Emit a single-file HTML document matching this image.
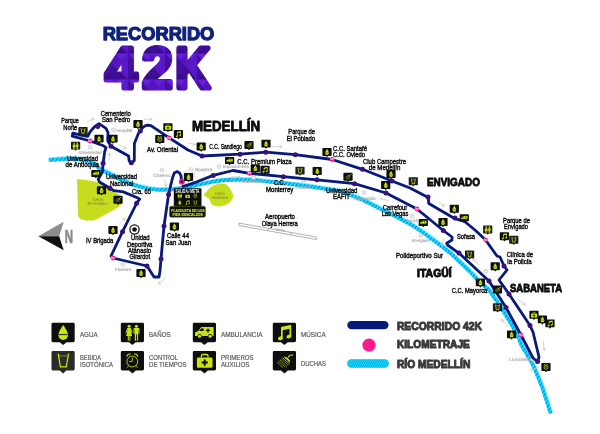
<!DOCTYPE html>
<html lang="es"><head><meta charset="utf-8"><title>Recorrido 42K</title>
<style>html,body{margin:0;padding:0;background:#fff}svg{display:block}.lb{font-family:"Liberation Sans",sans-serif;font-size:6.7px;fill:#0a0a0a;stroke:#0a0a0a;stroke-width:.38px}.ct{font-family:"Liberation Sans",sans-serif;font-weight:bold;fill:#0c0c0c;stroke:#0c0c0c;stroke-width:.85px;stroke-linejoin:round}.mt{font-family:"Liberation Sans",sans-serif;font-size:4.4px;fill:#a8a8a8;stroke:#a8a8a8;stroke-width:.14px;text-anchor:middle;text-rendering:geometricPrecision}.lg{font-family:"Liberation Sans",sans-serif;font-size:6.9px;fill:#5c5c5c;stroke:#5c5c5c;stroke-width:.2px}.lr{font-family:"Liberation Sans",sans-serif;font-weight:bold;font-size:11px;fill:#3a3a3a;stroke:#3a3a3a;stroke-width:1px;stroke-linejoin:round}</style></head><body>
<svg width="600" height="434" viewBox="0 0 600 434" style="opacity:.999;will-change:transform">
<defs>
<pattern id="hatch" width="1.9" height="4" patternUnits="userSpaceOnUse" patternTransform="rotate(30)"><rect width="1.9" height="4" fill="#0fe4ff"/><rect width="0.85" height="4" fill="#0a9ae8"/></pattern>
<pattern id="hatch2" width="3.15" height="4" patternUnits="userSpaceOnUse" patternTransform="rotate(38)"><rect width="3.15" height="4" fill="#0fe4ff"/><rect width="1.25" height="4" fill="#1593e6"/></pattern>
<pattern id="tri" width="26" height="26" patternUnits="userSpaceOnUse" patternTransform="translate(100,44)"><rect width="26" height="26" fill="#5011b4"/><path d="M0,0L26,0L13,13Z" fill="#6520dc"/><path d="M0,26L13,13L26,26Z" fill="#390b8c"/><path d="M0,0L13,13L0,26Z" fill="#450fa4"/><path d="M26,0L13,13L26,26Z" fill="#5a18c8"/><path d="M6.500,6.500L13,0L19.500,6.500L13,13Z" fill="#5614c0"/><path d="M6.500,19.500L13,13L19.500,19.500L13,26Z" fill="#400d98"/></pattern>
<symbol id="agua" viewBox="0 0 23.2 19.4"><path d="M11.7,2.1 C11.7,2.1 6.9,8.6 6.9,12.4 A4.8,4.8 0 0 0 16.5,12.4 C16.5,8.6 11.7,2.1 11.7,2.1Z" fill="#c9e40f"/><path d="M7.4,11.8h8.6" stroke="#0e0e0e" stroke-width=".9"/></symbol>
<symbol id="banos" viewBox="0 0 23.2 19.4"><g fill="#c9e40f"><circle cx="8.3" cy="3.4" r="1.5"/><path d="M6.6,5.3h3.4l1.9,4.6-.9,.4-1.3-3 1.6,5.9h-1.7v4.8h-1v-4.8h-.6v4.8h-1v-4.8h-1.7l1.6-5.9-1.3,3-.9-.4z"/><circle cx="15.6" cy="3.4" r="1.5"/><path d="M13.4,5.3h4.4c.5,0 .8,.4 .8,.9v4.8h-1v-4h-.3v11h-1.2v-6.2h-.9v6.2h-1.2v-11h-.3v4h-1v-4.8c0-.5 .3-.9 .7-.9z"/></g></symbol>
<symbol id="ambulancia" viewBox="0 0 23.2 19.4"><g fill="#c9e40f"><path d="M2.2,12.6V10.2c0-.5 .3-.9 .8-1.1l2.6-.9 2.3-3.3c.3-.4 .7-.6 1.1-.6h10.8c.6,0 1,.4 1,1v7.3c0,.4-.3,.7-.7,.7h-.6a2.1,2.1 0 0 0-4.2,0H8.9a2.1,2.1 0 0 0-4.2,0H2.9c-.4,0-.7-.3-.7-.7z"/><circle cx="6.8" cy="13.4" r="1.55"/><circle cx="17.4" cy="13.4" r="1.55"/></g><path d="M15.2,5.6v4M13.2,7.6h4" stroke="#0e0e0e" stroke-width="1.2"/><path d="M6.6,8.3l1.7-2.5h2.6v2.5z" fill="#0e0e0e"/></symbol>
<symbol id="musica" viewBox="0 0 23.2 19.4"><g fill="#c9e40f"><path d="M8.2,4.2l10.2-2.3v11.9h-1.7v-7.9l-6.8,1.5v8.3h-1.7z"/><ellipse cx="7.6" cy="15.5" rx="2.5" ry="1.9" transform="rotate(-15 7.6 15.5)"/><ellipse cx="16.1" cy="13.7" rx="2.5" ry="1.9" transform="rotate(-15 16.1 13.7)"/></g></symbol>
<symbol id="bebida" viewBox="0 0 23.2 19.4"><path d="M6.7,2.5l2.2,13.3h5.9l2.2-13.3" fill="none" stroke="#c9e40f" stroke-width="1.25" stroke-linejoin="miter"/><path d="M7.2,4.8c1-.7 1.8,.6 2.8,0s1.8,.6 2.8,0s1.8,.6 2.8,0" fill="none" stroke="#c9e40f" stroke-width=".6"/></symbol>
<symbol id="control" viewBox="0 0 23.2 19.4"><circle cx="11.5" cy="10.4" r="5.4" fill="none" stroke="#c9e40f" stroke-width=".9"/><path d="M11.5,6.4v4h-3.2" fill="none" stroke="#c9e40f" stroke-width=".8"/><path d="M6.3,5.2a2.3,2.3 0 0 1 3-2.2M16.7,5.2a2.3,2.3 0 0 0-3-2.2" fill="none" stroke="#c9e40f" stroke-width="1.1" stroke-linecap="round"/><path d="M7.6,14.6l-1,1.5M15.4,14.6l1,1.5" stroke="#c9e40f" stroke-width=".8" stroke-linecap="round"/></symbol>
<symbol id="auxilios" viewBox="0 0 23.2 19.4"><rect x="4.1" y="6.3" width="15.6" height="10.3" rx="1.3" fill="#c9e40f"/><path d="M8.6,6.3v-1.6c0-.8 .5-1.3 1.3-1.3h4c.8,0 1.3,.5 1.3,1.3v1.6" fill="none" stroke="#c9e40f" stroke-width="1.3"/><path d="M11.9,8.4v6.2M8.8,11.5h6.2" stroke="#0e0e0e" stroke-width="2"/></symbol>
<symbol id="duchas" viewBox="0 0 23.2 19.4"><g stroke="#c9e40f" fill="none"><path d="M19.8,4c-2-.5-3.4,.4-4.2,2" stroke-width="1.1" stroke-linecap="round"/><path d="M11,5.8c2.600,-.8 6.6,2.600 6.200,5.800z" fill="#c9e40f" stroke="none"/><path d="M9.8,6.600l6.800,6.400" stroke-width=".8"/><path d="M8.4,7.600l7,6.600M7,8.600l7.200,6.800M5.600,9.800l6.800,6.400M4.400,11.200l5.600,5.200" stroke-width=".7" stroke-dasharray="2.200 .5"/></g></symbol>
<symbol id="bebida-s" viewBox="0 0 23.2 19.4"><path d="M6.4,2.6l2.3,13.2h5.9l2.3-13.2" fill="none" stroke="#c9e40f" stroke-width="2" stroke-linejoin="miter"/><path d="M7,5.4h9.400" fill="none" stroke="#c9e40f" stroke-width="1.2"/></symbol>
<symbol id="control-s" viewBox="0 0 23.2 19.4"><circle cx="11.6" cy="10.6" r="5" fill="none" stroke="#c9e40f" stroke-width="1.9"/><path d="M11.6,7.400v3.400h-2.600" fill="none" stroke="#c9e40f" stroke-width="1.500"/><path d="M6.600,4.600l2.400,-2M16.600,4.600l-2.400,-2" fill="none" stroke="#c9e40f" stroke-width="2" stroke-linecap="round"/></symbol>
<symbol id="duchas-s" viewBox="0 0 23.2 19.4"><g stroke="#c9e40f" fill="none"><path d="M19.8,4c-2-.5-3.4,.4-4.2,2" stroke-width="1.800" stroke-linecap="round"/><path d="M10.600,5.400c3,-1 7.400,3 7,6.600z" fill="#c9e40f" stroke="none"/><path d="M9,7.200l7.200,6.800M7,9l7,6.600M5,11l5.800,5.400" stroke-width="1.300"/></g></symbol>
<symbol id="banos-s" viewBox="0 0 23.2 19.4"><g fill="#c9e40f"><circle cx="7.8" cy="3.6" r="2"/><path d="M5.600,6.200h4.400l2.400,6.800h-2.200v5.200h-1.700v-5.200h-1.400v5.200h-1.700v-5.200h-2.200z"/><circle cx="16" cy="3.6" r="2"/><path d="M12.800,6.200h6.400v6.600h-1.300v5.400h-1.700v-5.400h-.4v5.400h-1.700v-5.400h-1.300z"/></g></symbol>
</defs>
<rect width="600" height="434" fill="#fff"/>
<text x="102.700" y="39.900" textLength="111.600" lengthAdjust="spacingAndGlyphs" style="font-family:'Liberation Sans',sans-serif;font-weight:bold;font-size:18.300px;fill:#10227c;stroke:#10227c;stroke-width:1.250px;stroke-linejoin:round">RECORRIDO</text>
<text transform="translate(105.9,87.5) scale(1.0,1)" x="-0.57" y="0" style="font-family:'Liberation Sans',sans-serif;font-weight:bold;font-size:57px;fill:url(#tri);stroke:url(#tri);stroke-width:5px;stroke-linejoin:round">4</text>
<text transform="translate(143.9,87.5) scale(0.958,1)" x="-1.71" y="0" style="font-family:'Liberation Sans',sans-serif;font-weight:bold;font-size:57px;fill:url(#tri);stroke:url(#tri);stroke-width:5px;stroke-linejoin:round">2</text>
<text transform="translate(178.1,87.5) scale(0.847,1)" x="-3.42" y="0" style="font-family:'Liberation Sans',sans-serif;font-weight:bold;font-size:57px;fill:url(#tri);stroke:url(#tri);stroke-width:5px;stroke-linejoin:round">K</text>
<path d="M77,179.3 C80,179 86,180 91,181 L98,182 L110,189 L119,194.500 C122,197 123.200,200.500 122,203.500 C120,206.500 114,210 108,213 C102,216 98,219 94,220.200 C90,221 85,220.500 81,219 C78.500,218 78,216 78,213 C77.800,203 77.300,190 77,179.300Z" fill="#c5dd1c"/>
<path d="M203.300,195 L209,188.700 C212,186 216,184.200 220,183.800 C223,183.600 225,183.700 226.500,184.500 C228.500,186 231.500,190.500 233.300,195 C233.300,197 232.500,199 231.300,200.500 C229.500,202.500 228,204 226,204.700 C223.500,205.800 221,206.300 218.700,206.400 C216,206.200 214,205.700 212,204.700 C210.800,203.500 210.300,201.800 210,200 C209,198.800 207.500,198 206.700,197.300Z" fill="#c5dd1c"/>
<text x="98" y="200.5" class="mt" style="fill:#8f9e22;stroke:#8f9e22;font-size:4.3px">Cerro</text><text x="97.4" y="205.3" class="mt" style="fill:#8f9e22;stroke:#8f9e22;font-size:4.3px">El Volador</text>
<text x="220" y="194.5" class="mt" style="fill:#8f9e22;stroke:#8f9e22;font-size:4.3px">Cerro</text><text x="220" y="199.2" class="mt" style="fill:#8f9e22;stroke:#8f9e22;font-size:4.3px">Nutibara</text>
<g fill="#fff" stroke="#8e8e8e" stroke-width=".7" stroke-linejoin="round"><path d="M239.2,223.1L316.8,237.1L316.400,239.5L238.800,225.500Z"/><path d="M268.500,228.400l-.4,2.400M291,232.500l-.4,2.400"/></g><path d="M275.500,228.300l9.500,1.700l-.3,1.700l-9.500,-1.700z" fill="#b5b5b5"/>
<path d="M49,159.7 C50.5,159.6 54.2,159.1 58,158.9 C61.8,158.7 67.5,158.1 72,158.3 C76.5,158.5 81.2,159.1 85,160 C88.8,160.9 92.3,162.5 95,164 C97.7,165.5 98.2,167.3 101,169 C103.8,170.7 108.6,172.7 111.7,174.3 C114.8,175.9 115.2,176.7 119.7,178.6 C124.2,180.5 132.6,184.2 139,186 C145.4,187.8 151.7,188.9 158,189.3 C164.3,189.7 171.2,189.1 177,188.5 C182.8,187.9 185.5,186.9 193,185.5 C200.5,184.1 212.5,181.0 222,180 C231.5,179.0 240.3,179.1 250,179.5 C259.7,179.9 271.7,181.7 280,182.5 C288.3,183.3 293.3,183.8 300,184.6 C306.7,185.4 313.3,186.4 320,187.5 C326.7,188.6 333.3,189.2 340,191 C346.7,192.8 355.0,196.2 360,198.2 C365.0,200.2 366.2,201.1 370,203 C373.8,204.9 378.6,207.3 383,209.5 C387.4,211.7 392.2,214.0 396.7,216.3 C401.2,218.6 405.6,220.9 410,223.5 C414.4,226.1 420.0,229.8 423.3,232 C426.6,234.2 427.2,234.9 430,237 C432.8,239.1 436.9,241.9 440.3,244.5 C443.7,247.1 447.0,249.6 450.4,252.5 C453.8,255.4 457.2,258.9 460.5,262 C463.8,265.1 467.1,268.1 470,271 C472.9,273.9 475.5,277.1 478,279.6 C480.5,282.1 483.0,284.2 485,286 C487.0,287.8 488.2,288.4 490,290.5 C491.8,292.6 493.5,295.6 495.5,298.5 C497.5,301.4 499.6,304.2 502,308 C504.4,311.8 507.4,316.6 510,321 C512.6,325.4 515.5,330.4 517.5,334.4 C519.5,338.4 520.2,341.5 522,345 C523.8,348.5 526.2,351.9 528.1,355.3 C530.0,358.7 532.0,362.0 533.6,365.4 C535.2,368.8 536.4,371.9 537.9,375.5 C539.4,379.1 541.1,383.1 542.5,387 C543.9,390.9 545.1,394.7 546.5,399 C547.9,403.3 550.2,410.7 551,413" fill="none" stroke="#8af3ff" stroke-width="4.7" stroke-linecap="butt"/>
<mask id="rm" maskUnits="userSpaceOnUse" x="0" y="0" width="600" height="434"><path d="M49,159.7 C50.5,159.6 54.2,159.1 58,158.9 C61.8,158.7 67.5,158.1 72,158.3 C76.5,158.5 81.2,159.1 85,160 C88.8,160.9 92.3,162.5 95,164 C97.7,165.5 98.2,167.3 101,169 C103.8,170.7 108.6,172.7 111.7,174.3 C114.8,175.9 115.2,176.7 119.7,178.6 C124.2,180.5 132.6,184.2 139,186 C145.4,187.8 151.7,188.9 158,189.3 C164.3,189.7 171.2,189.1 177,188.5 C182.8,187.9 185.5,186.9 193,185.5 C200.5,184.1 212.5,181.0 222,180 C231.5,179.0 240.3,179.1 250,179.5 C259.7,179.9 271.7,181.7 280,182.5 C288.3,183.3 293.3,183.8 300,184.6 C306.7,185.4 313.3,186.4 320,187.5 C326.7,188.6 333.3,189.2 340,191 C346.7,192.8 355.0,196.2 360,198.2 C365.0,200.2 366.2,201.1 370,203 C373.8,204.9 378.6,207.3 383,209.5 C387.4,211.7 392.2,214.0 396.7,216.3 C401.2,218.6 405.6,220.9 410,223.5 C414.4,226.1 420.0,229.8 423.3,232 C426.6,234.2 427.2,234.9 430,237 C432.8,239.1 436.9,241.9 440.3,244.5 C443.7,247.1 447.0,249.6 450.4,252.5 C453.8,255.4 457.2,258.9 460.5,262 C463.8,265.1 467.1,268.1 470,271 C472.9,273.9 475.5,277.1 478,279.6 C480.5,282.1 483.0,284.2 485,286 C487.0,287.8 488.2,288.4 490,290.5 C491.8,292.6 493.5,295.6 495.5,298.5 C497.5,301.4 499.6,304.2 502,308 C504.4,311.8 507.4,316.6 510,321 C512.6,325.4 515.5,330.4 517.5,334.4 C519.5,338.4 520.2,341.5 522,345 C523.8,348.5 526.2,351.9 528.1,355.3 C530.0,358.7 532.0,362.0 533.6,365.4 C535.2,368.8 536.4,371.9 537.9,375.5 C539.4,379.1 541.1,383.1 542.5,387 C543.9,390.9 545.1,394.7 546.5,399 C547.9,403.3 550.2,410.7 551,413" fill="none" stroke="#fff" stroke-width="3.7" transform="translate(-.3,.45)"/></mask>
<g mask="url(#rm)"><rect x="40" y="150" width="520" height="270" fill="#0fe4ff"/><path d="M-170.95,420L40.00,150M-166.95,420L44.00,150M-162.95,420L48.00,150M-158.95,420L52.00,150M-154.95,420L56.00,150M-150.95,420L60.00,150M-146.95,420L64.00,150M-142.95,420L68.00,150M-138.95,420L72.00,150M-134.95,420L76.00,150M-130.95,420L80.00,150M-126.95,420L84.00,150M-122.95,420L88.00,150M-118.95,420L92.00,150M-114.95,420L96.00,150M-110.95,420L100.00,150M-106.95,420L104.00,150M-102.95,420L108.00,150M-98.95,420L112.00,150M-94.95,420L116.00,150M-90.95,420L120.00,150M-86.95,420L124.00,150M-82.95,420L128.00,150M-78.95,420L132.00,150M-74.95,420L136.00,150M-70.95,420L140.00,150M-66.95,420L144.00,150M-62.95,420L148.00,150M-58.95,420L152.00,150M-54.95,420L156.00,150M-50.95,420L160.00,150M-46.95,420L164.00,150M-42.95,420L168.00,150M-38.95,420L172.00,150M-34.95,420L176.00,150M-30.95,420L180.00,150M-26.95,420L184.00,150M-22.95,420L188.00,150M-18.95,420L192.00,150M-14.95,420L196.00,150M-10.95,420L200.00,150M-6.95,420L204.00,150M-2.95,420L208.00,150M1.05,420L212.00,150M5.05,420L216.00,150M9.05,420L220.00,150M13.05,420L224.00,150M17.05,420L228.00,150M21.05,420L232.00,150M25.05,420L236.00,150M29.05,420L240.00,150M33.05,420L244.00,150M37.05,420L248.00,150M41.05,420L252.00,150M45.05,420L256.00,150M49.05,420L260.00,150M53.05,420L264.00,150M57.05,420L268.00,150M61.05,420L272.00,150M65.05,420L276.00,150M69.05,420L280.00,150M73.05,420L284.00,150M77.05,420L288.00,150M81.05,420L292.00,150M85.05,420L296.00,150M89.05,420L300.00,150M93.05,420L304.00,150M97.05,420L308.00,150M101.05,420L312.00,150M105.05,420L316.00,150M109.05,420L320.00,150M113.05,420L324.00,150M117.05,420L328.00,150M121.05,420L332.00,150M125.05,420L336.00,150M129.05,420L340.00,150M133.05,420L344.00,150M137.05,420L348.00,150M141.05,420L352.00,150M145.05,420L356.00,150M149.05,420L360.00,150M153.05,420L364.00,150M157.05,420L368.00,150M161.05,420L372.00,150M165.05,420L376.00,150M169.05,420L380.00,150M173.05,420L384.00,150M177.05,420L388.00,150M181.05,420L392.00,150M185.05,420L396.00,150M189.05,420L400.00,150M193.05,420L404.00,150M197.05,420L408.00,150M201.05,420L412.00,150M205.05,420L416.00,150M209.05,420L420.00,150M213.05,420L424.00,150M217.05,420L428.00,150M221.05,420L432.00,150M225.05,420L436.00,150M229.05,420L440.00,150M233.05,420L444.00,150M237.05,420L448.00,150M241.05,420L452.00,150M245.05,420L456.00,150M249.05,420L460.00,150M253.05,420L464.00,150M257.05,420L468.00,150M261.05,420L472.00,150M265.05,420L476.00,150M269.05,420L480.00,150M273.05,420L484.00,150M277.05,420L488.00,150M281.05,420L492.00,150M285.05,420L496.00,150M289.05,420L500.00,150M293.05,420L504.00,150M297.05,420L508.00,150M301.05,420L512.00,150M305.05,420L516.00,150M309.05,420L520.00,150M313.05,420L524.00,150M317.05,420L528.00,150M321.05,420L532.00,150M325.05,420L536.00,150M329.05,420L540.00,150M333.05,420L544.00,150M337.05,420L548.00,150M341.05,420L552.00,150M345.05,420L556.00,150M349.05,420L560.00,150M353.05,420L564.00,150M357.05,420L568.00,150M361.05,420L572.00,150M365.05,420L576.00,150M369.05,420L580.00,150M373.05,420L584.00,150M377.05,420L588.00,150M381.05,420L592.00,150M385.05,420L596.00,150M389.05,420L600.00,150M393.05,420L604.00,150M397.05,420L608.00,150M401.05,420L612.00,150M405.05,420L616.00,150M409.05,420L620.00,150M413.05,420L624.00,150M417.05,420L628.00,150M421.05,420L632.00,150M425.05,420L636.00,150M429.05,420L640.00,150M433.05,420L644.00,150M437.05,420L648.00,150M441.05,420L652.00,150M445.05,420L656.00,150M449.05,420L660.00,150M453.05,420L664.00,150M457.05,420L668.00,150M461.05,420L672.00,150M465.05,420L676.00,150M469.05,420L680.00,150M473.05,420L684.00,150M477.05,420L688.00,150M481.05,420L692.00,150M485.05,420L696.00,150M489.05,420L700.00,150M493.05,420L704.00,150M497.05,420L708.00,150M501.05,420L712.00,150M505.05,420L716.00,150M509.05,420L720.00,150M513.05,420L724.00,150M517.05,420L728.00,150M521.05,420L732.00,150M525.05,420L736.00,150M529.05,420L740.00,150M533.05,420L744.00,150M537.05,420L748.00,150M541.05,420L752.00,150M545.05,420L756.00,150M549.05,420L760.00,150M553.05,420L764.00,150M557.05,420L768.00,150" stroke="#1a8fe6" stroke-width="1.3" fill="none"/></g>
<rect x="111.70" y="128.30" width="3.4" height="3.4" rx=".45" fill="#fff" stroke="#b4b4b4" stroke-width=".55"/><path d="M112.60,130.90v-1.7l.8,1l.8-1v1.7" fill="none" stroke="#bdbdbd" stroke-width=".4"/>
<text x="116.4" y="131.6" class="mt" style="text-anchor:start">Hospital</text>
<rect x="88.30" y="145.70" width="3.4" height="3.4" rx=".45" fill="#fff" stroke="#b4b4b4" stroke-width=".55"/><path d="M89.20,148.30v-1.7l.8,1l.8-1v1.7" fill="none" stroke="#bdbdbd" stroke-width=".4"/>
<text x="90" y="153.6" class="mt" style="text-anchor:middle">Universidad</text>
<rect x="160.30" y="168.30" width="3.4" height="3.4" rx=".45" fill="#fff" stroke="#b4b4b4" stroke-width=".55"/><path d="M161.20,170.90v-1.7l.8,1l.8-1v1.7" fill="none" stroke="#bdbdbd" stroke-width=".4"/>
<text x="162" y="176.6" class="mt" style="text-anchor:middle">Cisneros</text>
<rect x="189.30" y="167.90" width="3.4" height="3.4" rx=".45" fill="#fff" stroke="#b4b4b4" stroke-width=".55"/><path d="M190.20,170.50v-1.7l.8,1l.8-1v1.7" fill="none" stroke="#bdbdbd" stroke-width=".4"/>
<text x="194.4" y="171.3" class="mt" style="text-anchor:start">Alpujarra</text>
<rect x="217.30" y="164.90" width="3.4" height="3.4" rx=".45" fill="#fff" stroke="#b4b4b4" stroke-width=".55"/><path d="M218.20,167.50v-1.7l.8,1l.8-1v1.7" fill="none" stroke="#bdbdbd" stroke-width=".4"/>
<text x="223" y="168.4" class="mt" style="text-anchor:start">Exposiciones</text>
<rect x="251.90" y="175.90" width="3.4" height="3.4" rx=".45" fill="#fff" stroke="#b4b4b4" stroke-width=".55"/><path d="M252.80,178.50v-1.7l.8,1l.8-1v1.7" fill="none" stroke="#bdbdbd" stroke-width=".4"/>
<text x="253" y="183.4" class="mt" style="text-anchor:middle">Industriales</text>
<rect x="301.90" y="179.90" width="3.4" height="3.4" rx=".45" fill="#fff" stroke="#b4b4b4" stroke-width=".55"/><path d="M302.80,182.50v-1.7l.8,1l.8-1v1.7" fill="none" stroke="#bdbdbd" stroke-width=".4"/>
<text x="303.5" y="188.5" class="mt" style="text-anchor:middle">Poblado</text>
<rect x="362.30" y="190.90" width="3.4" height="3.4" rx=".45" fill="#fff" stroke="#b4b4b4" stroke-width=".55"/><path d="M363.20,193.50v-1.7l.8,1l.8-1v1.7" fill="none" stroke="#bdbdbd" stroke-width=".4"/>
<text x="364.5" y="199.6" class="mt" style="text-anchor:middle">Aguacatala</text>
<rect x="410.30" y="214.10" width="3.4" height="3.4" rx=".45" fill="#fff" stroke="#b4b4b4" stroke-width=".55"/><path d="M411.20,216.70v-1.7l.8,1l.8-1v1.7" fill="none" stroke="#bdbdbd" stroke-width=".4"/>
<text x="412" y="221.6" class="mt" style="text-anchor:middle">Ayurá</text>
<rect x="419.10" y="233.80" width="3.4" height="3.4" rx=".45" fill="#fff" stroke="#b4b4b4" stroke-width=".55"/><path d="M420.00,236.40v-1.7l.8,1l.8-1v1.7" fill="none" stroke="#bdbdbd" stroke-width=".4"/>
<text x="420.8" y="242" class="mt" style="text-anchor:middle">Envigado</text>
<rect x="483.90" y="269.30" width="3.4" height="3.4" rx=".45" fill="#fff" stroke="#b4b4b4" stroke-width=".55"/><path d="M484.80,271.90v-1.7l.8,1l.8-1v1.7" fill="none" stroke="#bdbdbd" stroke-width=".4"/>
<rect x="530.70" y="357.40" width="3.4" height="3.4" rx=".45" fill="#fff" stroke="#b4b4b4" stroke-width=".55"/><path d="M531.60,360.00v-1.7l.8,1l.8-1v1.7" fill="none" stroke="#bdbdbd" stroke-width=".4"/>
<text x="530" y="360.8" class="mt" style="text-anchor:end">La Estrella</text>
<rect x="121.30" y="262.70" width="3.4" height="3.4" rx=".45" fill="#fff" stroke="#b4b4b4" stroke-width=".55"/><path d="M122.20,265.30v-1.7l.8,1l.8-1v1.7" fill="none" stroke="#bdbdbd" stroke-width=".4"/>
<text x="123" y="270.6" class="mt" style="text-anchor:middle">Floresta</text>
<path d="M87,122.5Q89.6,119.0 94,119M91.8,120.3L94,119L91.8,117.7" fill="none" stroke="#c6c6c6" stroke-width=".75" stroke-linecap="round" stroke-linejoin="round"/>
<path d="M144,119.3Q148.0,118.4 152,119.5M149.5,120.2L152,119.5L150.2,117.6" fill="none" stroke="#c6c6c6" stroke-width=".75" stroke-linecap="round" stroke-linejoin="round"/>
<path d="M119,145Q122.5,146.8 126,148.5M123.4,148.7L126,148.5L124.6,146.3" fill="none" stroke="#c6c6c6" stroke-width=".75" stroke-linecap="round" stroke-linejoin="round"/>
<path d="M109.3,160Q109.4,156.5 109.5,153M110.8,155.2L109.5,153L108.1,155.2" fill="none" stroke="#c6c6c6" stroke-width=".75" stroke-linecap="round" stroke-linejoin="round"/>
<path d="M188,143Q191.8,143.8 195.5,144.6M193.1,145.4L195.5,144.6L193.6,142.9" fill="none" stroke="#c6c6c6" stroke-width=".75" stroke-linecap="round" stroke-linejoin="round"/>
<path d="M164.6,180Q165.5,183.2 166.4,186.5M164.5,184.7L166.4,186.5L167.1,184.0" fill="none" stroke="#c6c6c6" stroke-width=".75" stroke-linecap="round" stroke-linejoin="round"/>
<path d="M240,176.4Q235.5,177.0 231,177.6M233.0,176.0L231,177.6L233.4,178.6" fill="none" stroke="#c6c6c6" stroke-width=".75" stroke-linecap="round" stroke-linejoin="round"/>
<path d="M119.5,224Q122.2,221.0 125,218M124.5,220.5L125,218L122.5,218.7" fill="none" stroke="#c6c6c6" stroke-width=".75" stroke-linecap="round" stroke-linejoin="round"/>
<path d="M165.5,277.5Q163.0,282.1 158,283.5M159.7,281.6L158,283.5L160.5,284.2" fill="none" stroke="#c6c6c6" stroke-width=".75" stroke-linecap="round" stroke-linejoin="round"/>
<path d="M272,146.7Q277.0,146.7 282,146.7M279.8,148.0L282,146.7L279.8,145.4" fill="none" stroke="#c6c6c6" stroke-width=".75" stroke-linecap="round" stroke-linejoin="round"/>
<path d="M388,200.5Q384.0,199.5 380,198.5M382.5,197.8L380,198.5L381.8,200.3" fill="none" stroke="#c6c6c6" stroke-width=".75" stroke-linecap="round" stroke-linejoin="round"/>
<path d="M438.5,202.3Q441.5,204.2 444.5,206M441.9,206.0L444.5,206L443.3,203.7" fill="none" stroke="#c6c6c6" stroke-width=".75" stroke-linecap="round" stroke-linejoin="round"/>
<path d="M478.5,264.5Q475.5,261.5 472.5,258.5M475.0,259.1L472.5,258.5L473.1,261.0" fill="none" stroke="#c6c6c6" stroke-width=".75" stroke-linecap="round" stroke-linejoin="round"/>
<path d="M518,299Q521.5,302.0 525,305M522.5,304.6L525,305L524.2,302.6" fill="none" stroke="#c6c6c6" stroke-width=".75" stroke-linecap="round" stroke-linejoin="round"/>
<path d="M507.5,326.5Q504.5,323.0 501.5,319.5M503.9,320.3L501.5,319.5L501.9,322.0" fill="none" stroke="#c6c6c6" stroke-width=".75" stroke-linecap="round" stroke-linejoin="round"/>
<path d="M543.2,341Q543.7,345.8 544.2,350.5M542.7,348.5L544.2,350.5L545.3,348.2" fill="none" stroke="#c6c6c6" stroke-width=".75" stroke-linecap="round" stroke-linejoin="round"/>
<path d="M539.5,366.5Q535.6,369.9 530.5,369.5M532.8,368.4L530.5,369.5L532.6,371.0" fill="none" stroke="#c6c6c6" stroke-width=".75" stroke-linecap="round" stroke-linejoin="round"/>
<path d="M444,238.5Q442.9,242.0 441.8,245.5M441.2,243.0L441.8,245.5L443.7,243.8" fill="none" stroke="#c6c6c6" stroke-width=".75" stroke-linecap="round" stroke-linejoin="round"/>
<path d="M183.500,180.500C183,174 185,170.600 189,170.600C193,170.600 194.500,174 194.300,178" fill="none" stroke="#ebebeb" stroke-width="2.600"/>
<polyline points="181.6,181.6 181,176 179.6,173 176.8,171.6 174.3,173 172.8,177 171,184 168.6,194.5 164,226 161,259 160,271 159,277 154,277 147,266 113,258 111,256 122.5,231.7 136.8,203 139.6,199.2 137.3,197.7 123.3,191.9 114,190.7 110,188.2 99.5,182 98.2,179.3 102.3,172 103.2,163 104.6,152 106,147.6 103.5,145.8 90.2,141 72.2,136.2 72.9,133.1 81,135.1 87.7,136.4 90.2,131.7 94.3,127 98.9,123.6 106,128.3 108,132.5 107.7,140.8 111,146.2 128.6,156 129.2,161 131.3,163 134.3,160.6 134.4,143.5 138.6,133 140.2,131 142.3,128 145,125.9 148,125.2 150.5,125.6 152.4,126.6 169.2,137.9 188,150 202,156 240,154.2 265.8,152.2 295.3,154.7 332.2,159.5 362.5,169.3 392,181 410,188 428.2,197.5 428.8,203.5 455,218.7 465,221.7 475.8,230.8 485.6,240 497,256 500,257 504,266 507,270 499,280 509,294 523,315 527,321 530,325.6 533,332 539,357 537.6,361.6 533,358 521,335 506,307.6 489,281 459.2,253.3 447.5,245 446.7,243.3 452,240 452,237 443.3,230.5 417,209 386,193 354.5,183.7 317,179.8 283.3,176.7 249.5,173.3 233,170.5 213.2,175.4 194.6,182.7 188,184.8 183,186.3" fill="none" stroke="#08197c" stroke-width="2.8" stroke-linejoin="round" stroke-linecap="round"/>
<circle cx="168.6" cy="194.5" r="2.5" fill="#3a127e"/>
<circle cx="164" cy="226" r="2.5" fill="#3a127e"/>
<circle cx="161" cy="259" r="2.5" fill="#3a127e"/>
<circle cx="147" cy="266" r="2.5" fill="#3a127e"/>
<circle cx="122.5" cy="231.7" r="2.5" fill="#3a127e"/>
<circle cx="136.6" cy="203.2" r="2.5" fill="#3a127e"/>
<circle cx="110" cy="188.2" r="2.5" fill="#3a127e"/>
<circle cx="103.1" cy="163.3" r="2.5" fill="#3a127e"/>
<circle cx="97.7" cy="126.6" r="2.5" fill="#3a127e"/>
<circle cx="111" cy="146.2" r="2.5" fill="#3a127e"/>
<circle cx="131.3" cy="162.8" r="2.5" fill="#3a127e"/>
<circle cx="140.3" cy="131.1" r="2.5" fill="#3a127e"/>
<circle cx="202" cy="156" r="2.5" fill="#3a127e"/>
<circle cx="240" cy="154.2" r="2.5" fill="#3a127e"/>
<circle cx="265.8" cy="152.2" r="2.5" fill="#3a127e"/>
<circle cx="295.3" cy="154.7" r="2.5" fill="#3a127e"/>
<circle cx="362.5" cy="169.3" r="2.5" fill="#3a127e"/>
<circle cx="392" cy="181" r="2.5" fill="#3a127e"/>
<circle cx="428" cy="197" r="2.5" fill="#3a127e"/>
<circle cx="455" cy="218" r="2.5" fill="#3a127e"/>
<circle cx="504" cy="266" r="2.5" fill="#3a127e"/>
<circle cx="509" cy="294" r="2.5" fill="#3a127e"/>
<circle cx="530" cy="325.6" r="2.5" fill="#3a127e"/>
<circle cx="537.6" cy="361.6" r="2.5" fill="#3a127e"/>
<circle cx="506" cy="307.6" r="2.5" fill="#3a127e"/>
<circle cx="489" cy="281" r="2.5" fill="#3a127e"/>
<circle cx="459" cy="253" r="2.5" fill="#3a127e"/>
<circle cx="443.3" cy="230.5" r="2.5" fill="#3a127e"/>
<circle cx="386" cy="193" r="2.5" fill="#3a127e"/>
<circle cx="354.5" cy="183.7" r="2.5" fill="#3a127e"/>
<circle cx="317" cy="179.8" r="2.5" fill="#3a127e"/>
<circle cx="283.3" cy="176.7" r="2.5" fill="#3a127e"/>
<circle cx="213.2" cy="175.4" r="2.5" fill="#3a127e"/>
<circle cx="113" cy="258" r="2.4" fill="#ff1a8c"/><text x="113" y="258.8" text-anchor="middle" style="font-family:'Liberation Sans',sans-serif;font-weight:bold;font-size:2.6px;fill:#ffd3ea">km</text>
<circle cx="90.2" cy="141" r="2.4" fill="#ff1a8c"/><text x="90.2" y="141.8" text-anchor="middle" style="font-family:'Liberation Sans',sans-serif;font-weight:bold;font-size:2.6px;fill:#ffd3ea">km</text>
<circle cx="169.2" cy="137.9" r="2.4" fill="#ff1a8c"/><text x="169.2" y="138.7" text-anchor="middle" style="font-family:'Liberation Sans',sans-serif;font-weight:bold;font-size:2.6px;fill:#ffd3ea">km</text>
<circle cx="332.2" cy="159.5" r="2.4" fill="#ff1a8c"/><text x="332.2" y="160.3" text-anchor="middle" style="font-family:'Liberation Sans',sans-serif;font-weight:bold;font-size:2.6px;fill:#ffd3ea">km</text>
<circle cx="485.6" cy="240" r="2.4" fill="#ff1a8c"/><text x="485.6" y="240.8" text-anchor="middle" style="font-family:'Liberation Sans',sans-serif;font-weight:bold;font-size:2.6px;fill:#ffd3ea">km</text>
<circle cx="521" cy="335" r="2.4" fill="#ff1a8c"/><text x="521" y="335.8" text-anchor="middle" style="font-family:'Liberation Sans',sans-serif;font-weight:bold;font-size:2.6px;fill:#ffd3ea">km</text>
<circle cx="417" cy="209" r="2.4" fill="#ff1a8c"/><text x="417" y="209.8" text-anchor="middle" style="font-family:'Liberation Sans',sans-serif;font-weight:bold;font-size:2.6px;fill:#ffd3ea">km</text>
<circle cx="249.5" cy="173.3" r="2.4" fill="#ff1a8c"/><text x="249.5" y="174.1" text-anchor="middle" style="font-family:'Liberation Sans',sans-serif;font-weight:bold;font-size:2.6px;fill:#ffd3ea">km</text>
<circle cx="181.8" cy="181.8" r="3.05" fill="#ff1a8c"/><circle cx="181.8" cy="181.8" r="1.3" fill="#0e0e0e"/>
<circle cx="134.5" cy="229.5" r="4.6" fill="#fff" stroke="#0e0e0e" stroke-width="1.25"/><circle cx="134.5" cy="229.5" r="2.35" fill="#0e0e0e"/>
<g><path d="M79.10,127.05h7.80a0.7,0.7 0 0 1 0.7,0.7v6.50a0.7,0.7 0 0 1-0.7,0.7h-2.80l-1.1,1.3l-1.1-1.3h-2.80a0.7,0.7 0 0 1-0.7-0.7v-6.50a0.7,0.7 0 0 1 0.7-0.7z" fill="#1c1c1c"/><use href="#bebida-s" x="78.40" y="127.25" width="9.20" height="7.50"/></g>
<g><path d="M95.10,134.65h7.80a0.7,0.7 0 0 1 0.7,0.7v6.50a0.7,0.7 0 0 1-0.7,0.7h-2.80l-1.1,1.3l-1.1-1.3h-2.80a0.7,0.7 0 0 1-0.7-0.7v-6.50a0.7,0.7 0 0 1 0.7-0.7z" fill="#0e0e0e"/><use href="#agua" x="94.40" y="134.85" width="9.20" height="7.50"/></g>
<g><path d="M109.10,134.65h7.80a0.7,0.7 0 0 1 0.7,0.7v6.50a0.7,0.7 0 0 1-0.7,0.7h-2.80l-1.1,1.3l-1.1-1.3h-2.80a0.7,0.7 0 0 1-0.7-0.7v-6.50a0.7,0.7 0 0 1 0.7-0.7z" fill="#0e0e0e"/><use href="#agua" x="108.40" y="134.85" width="9.20" height="7.50"/></g>
<g><path d="M134.10,120.05h7.80a0.7,0.7 0 0 1 0.7,0.7v6.50a0.7,0.7 0 0 1-0.7,0.7h-2.80l-1.1,1.3l-1.1-1.3h-2.80a0.7,0.7 0 0 1-0.7-0.7v-6.50a0.7,0.7 0 0 1 0.7-0.7z" fill="#0e0e0e"/><use href="#agua" x="133.40" y="120.25" width="9.20" height="7.50"/></g>
<g><path d="M71.70,141.65h7.80a0.7,0.7 0 0 1 0.7,0.7v6.50a0.7,0.7 0 0 1-0.7,0.7h-2.80l-1.1,1.3l-1.1-1.3h-2.80a0.7,0.7 0 0 1-0.7-0.7v-6.50a0.7,0.7 0 0 1 0.7-0.7z" fill="#1c1c1c"/><use href="#banos-s" x="71.00" y="141.85" width="9.20" height="7.50"/></g>
<g><path d="M92.00,170.00h7.80a0.7,0.7 0 0 1 0.7,0.7v5.60a0.7,0.7 0 0 1-0.7,0.7h-2.80l-1.1,1.3l-1.1-1.3h-2.80a0.7,0.7 0 0 1-0.7-0.7v-5.60a0.7,0.7 0 0 1 0.7-0.7z" fill="#0e0e0e"/><use href="#ambulancia" x="91.30" y="170.20" width="9.20" height="6.60"/></g>
<g><path d="M164.00,123.15h7.80a0.7,0.7 0 0 1 0.7,0.7v6.50a0.7,0.7 0 0 1-0.7,0.7h-2.80l-1.1,1.3l-1.1-1.3h-2.80a0.7,0.7 0 0 1-0.7-0.7v-6.50a0.7,0.7 0 0 1 0.7-0.7z" fill="#0e0e0e"/><use href="#auxilios" x="163.30" y="123.35" width="9.20" height="7.50"/></g>
<g><path d="M155.90,135.05h7.80a0.7,0.7 0 0 1 0.7,0.7v6.50a0.7,0.7 0 0 1-0.7,0.7h-2.80l-1.1,1.3l-1.1-1.3h-2.80a0.7,0.7 0 0 1-0.7-0.7v-6.50a0.7,0.7 0 0 1 0.7-0.7z" fill="#0e0e0e"/><use href="#control-s" x="155.20" y="135.25" width="9.20" height="7.50"/></g>
<g><path d="M174.50,130.05h7.80a0.7,0.7 0 0 1 0.7,0.7v6.50a0.7,0.7 0 0 1-0.7,0.7h-2.80l-1.1,1.3l-1.1-1.3h-2.80a0.7,0.7 0 0 1-0.7-0.7v-6.50a0.7,0.7 0 0 1 0.7-0.7z" fill="#0e0e0e"/><use href="#musica" x="173.80" y="130.25" width="9.20" height="7.50"/></g>
<g><path d="M197.30,142.55h7.80a0.7,0.7 0 0 1 0.7,0.7v6.50a0.7,0.7 0 0 1-0.7,0.7h-2.80l-1.1,1.3l-1.1-1.3h-2.80a0.7,0.7 0 0 1-0.7-0.7v-6.50a0.7,0.7 0 0 1 0.7-0.7z" fill="#0e0e0e"/><use href="#agua" x="196.60" y="142.75" width="9.20" height="7.50"/></g>
<g><path d="M225.70,157.00h7.80a0.7,0.7 0 0 1 0.7,0.7v5.60a0.7,0.7 0 0 1-0.7,0.7h-2.80l-1.1,1.3l-1.1-1.3h-2.80a0.7,0.7 0 0 1-0.7-0.7v-5.60a0.7,0.7 0 0 1 0.7-0.7z" fill="#0e0e0e"/><use href="#ambulancia" x="225.00" y="157.20" width="9.20" height="6.60"/></g>
<g><path d="M184.60,173.05h7.80a0.7,0.7 0 0 1 0.7,0.7v6.50a0.7,0.7 0 0 1-0.7,0.7h-2.80l-1.1,1.3l-1.1-1.3h-2.80a0.7,0.7 0 0 1-0.7-0.7v-6.50a0.7,0.7 0 0 1 0.7-0.7z" fill="#0e0e0e"/><use href="#agua" x="183.90" y="173.25" width="9.20" height="7.50"/></g>
<g><path d="M97.60,186.25h7.80a0.7,0.7 0 0 1 0.7,0.7v6.50a0.7,0.7 0 0 1-0.7,0.7h-2.80l-1.1,1.3l-1.1-1.3h-2.80a0.7,0.7 0 0 1-0.7-0.7v-6.50a0.7,0.7 0 0 1 0.7-0.7z" fill="#0e0e0e"/><use href="#agua" x="96.90" y="186.45" width="9.20" height="7.50"/></g>
<g><path d="M114.10,195.75h7.80a0.7,0.7 0 0 1 0.7,0.7v6.50a0.7,0.7 0 0 1-0.7,0.7h-2.80l-1.1,1.3l-1.1-1.3h-2.80a0.7,0.7 0 0 1-0.7-0.7v-6.50a0.7,0.7 0 0 1 0.7-0.7z" fill="#0e0e0e"/><use href="#duchas-s" x="113.40" y="195.95" width="9.20" height="7.50"/></g>
<g><path d="M109.10,226.05h7.80a0.7,0.7 0 0 1 0.7,0.7v6.50a0.7,0.7 0 0 1-0.7,0.7h-2.80l-1.1,1.3l-1.1-1.3h-2.80a0.7,0.7 0 0 1-0.7-0.7v-6.50a0.7,0.7 0 0 1 0.7-0.7z" fill="#0e0e0e"/><use href="#agua" x="108.40" y="226.25" width="9.20" height="7.50"/></g>
<g><path d="M170.50,222.55h7.80a0.7,0.7 0 0 1 0.7,0.7v6.50a0.7,0.7 0 0 1-0.7,0.7h-2.80l-1.1,1.3l-1.1-1.3h-2.80a0.7,0.7 0 0 1-0.7-0.7v-6.50a0.7,0.7 0 0 1 0.7-0.7z" fill="#0e0e0e"/><use href="#agua" x="169.80" y="222.75" width="9.20" height="7.50"/></g>
<g><path d="M137.10,269.05h7.80a0.7,0.7 0 0 1 0.7,0.7v6.50a0.7,0.7 0 0 1-0.7,0.7h-2.80l-1.1,1.3l-1.1-1.3h-2.80a0.7,0.7 0 0 1-0.7-0.7v-6.50a0.7,0.7 0 0 1 0.7-0.7z" fill="#0e0e0e"/><use href="#agua" x="136.40" y="269.25" width="9.20" height="7.50"/></g>
<g><path d="M245.10,141.05h7.80a0.7,0.7 0 0 1 0.7,0.7v6.50a0.7,0.7 0 0 1-0.7,0.7h-2.80l-1.1,1.3l-1.1-1.3h-2.80a0.7,0.7 0 0 1-0.7-0.7v-6.50a0.7,0.7 0 0 1 0.7-0.7z" fill="#0e0e0e"/><use href="#duchas-s" x="244.40" y="141.25" width="9.20" height="7.50"/></g>
<g><path d="M262.10,139.65h7.80a0.7,0.7 0 0 1 0.7,0.7v6.50a0.7,0.7 0 0 1-0.7,0.7h-2.80l-1.1,1.3l-1.1-1.3h-2.80a0.7,0.7 0 0 1-0.7-0.7v-6.50a0.7,0.7 0 0 1 0.7-0.7z" fill="#0e0e0e"/><use href="#agua" x="261.40" y="139.85" width="9.20" height="7.50"/></g>
<g><path d="M323.10,148.05h7.80a0.7,0.7 0 0 1 0.7,0.7v6.50a0.7,0.7 0 0 1-0.7,0.7h-2.80l-1.1,1.3l-1.1-1.3h-2.80a0.7,0.7 0 0 1-0.7-0.7v-6.50a0.7,0.7 0 0 1 0.7-0.7z" fill="#0e0e0e"/><use href="#agua" x="322.40" y="148.25" width="9.20" height="7.50"/></g>
<g><path d="M251.40,164.25h7.80a0.7,0.7 0 0 1 0.7,0.7v6.50a0.7,0.7 0 0 1-0.7,0.7h-2.80l-1.1,1.3l-1.1-1.3h-2.80a0.7,0.7 0 0 1-0.7-0.7v-6.50a0.7,0.7 0 0 1 0.7-0.7z" fill="#0e0e0e"/><use href="#agua" x="250.70" y="164.45" width="9.20" height="7.50"/></g>
<g><path d="M261.10,165.85h7.80a0.7,0.7 0 0 1 0.7,0.7v6.50a0.7,0.7 0 0 1-0.7,0.7h-2.80l-1.1,1.3l-1.1-1.3h-2.80a0.7,0.7 0 0 1-0.7-0.7v-6.50a0.7,0.7 0 0 1 0.7-0.7z" fill="#0e0e0e"/><use href="#musica" x="260.40" y="166.05" width="9.20" height="7.50"/></g>
<g><path d="M296.10,166.65h7.80a0.7,0.7 0 0 1 0.7,0.7v6.50a0.7,0.7 0 0 1-0.7,0.7h-2.80l-1.1,1.3l-1.1-1.3h-2.80a0.7,0.7 0 0 1-0.7-0.7v-6.50a0.7,0.7 0 0 1 0.7-0.7z" fill="#1c1c1c"/><use href="#bebida-s" x="295.40" y="166.85" width="9.20" height="7.50"/></g>
<g><path d="M313.30,167.05h7.80a0.7,0.7 0 0 1 0.7,0.7v6.50a0.7,0.7 0 0 1-0.7,0.7h-2.80l-1.1,1.3l-1.1-1.3h-2.80a0.7,0.7 0 0 1-0.7-0.7v-6.50a0.7,0.7 0 0 1 0.7-0.7z" fill="#0e0e0e"/><use href="#agua" x="312.60" y="167.25" width="9.20" height="7.50"/></g>
<g><path d="M344.10,172.75h7.80a0.7,0.7 0 0 1 0.7,0.7v6.50a0.7,0.7 0 0 1-0.7,0.7h-2.80l-1.1,1.3l-1.1-1.3h-2.80a0.7,0.7 0 0 1-0.7-0.7v-6.50a0.7,0.7 0 0 1 0.7-0.7z" fill="#0e0e0e"/><use href="#duchas-s" x="343.40" y="172.95" width="9.20" height="7.50"/></g>
<g><path d="M387.10,170.05h7.80a0.7,0.7 0 0 1 0.7,0.7v6.50a0.7,0.7 0 0 1-0.7,0.7h-2.80l-1.1,1.3l-1.1-1.3h-2.80a0.7,0.7 0 0 1-0.7-0.7v-6.50a0.7,0.7 0 0 1 0.7-0.7z" fill="#0e0e0e"/><use href="#agua" x="386.40" y="170.25" width="9.20" height="7.50"/></g>
<g><path d="M381.80,181.05h7.80a0.7,0.7 0 0 1 0.7,0.7v6.50a0.7,0.7 0 0 1-0.7,0.7h-2.80l-1.1,1.3l-1.1-1.3h-2.80a0.7,0.7 0 0 1-0.7-0.7v-6.50a0.7,0.7 0 0 1 0.7-0.7z" fill="#0e0e0e"/><use href="#agua" x="381.10" y="181.25" width="9.20" height="7.50"/></g>
<g><path d="M409.40,177.35h7.80a0.7,0.7 0 0 1 0.7,0.7v6.50a0.7,0.7 0 0 1-0.7,0.7h-2.80l-1.1,1.3l-1.1-1.3h-2.80a0.7,0.7 0 0 1-0.7-0.7v-6.50a0.7,0.7 0 0 1 0.7-0.7z" fill="#1c1c1c"/><use href="#bebida-s" x="408.70" y="177.55" width="9.20" height="7.50"/></g>
<g><path d="M450.40,204.85h7.80a0.7,0.7 0 0 1 0.7,0.7v6.50a0.7,0.7 0 0 1-0.7,0.7h-2.80l-1.1,1.3l-1.1-1.3h-2.80a0.7,0.7 0 0 1-0.7-0.7v-6.50a0.7,0.7 0 0 1 0.7-0.7z" fill="#0e0e0e"/><use href="#agua" x="449.70" y="205.05" width="9.20" height="7.50"/></g>
<g><path d="M460.40,214.30h7.80a0.7,0.7 0 0 1 0.7,0.7v5.60a0.7,0.7 0 0 1-0.7,0.7h-2.80l-1.1,1.3l-1.1-1.3h-2.80a0.7,0.7 0 0 1-0.7-0.7v-5.60a0.7,0.7 0 0 1 0.7-0.7z" fill="#0e0e0e"/><use href="#ambulancia" x="459.70" y="214.50" width="9.20" height="6.60"/></g>
<g><path d="M419.40,219.00h7.80a0.7,0.7 0 0 1 0.7,0.7v5.60a0.7,0.7 0 0 1-0.7,0.7h-2.80l-1.1,1.3l-1.1-1.3h-2.80a0.7,0.7 0 0 1-0.7-0.7v-5.60a0.7,0.7 0 0 1 0.7-0.7z" fill="#0e0e0e"/><use href="#ambulancia" x="418.70" y="219.20" width="9.20" height="6.60"/></g>
<g><path d="M439.10,218.05h7.80a0.7,0.7 0 0 1 0.7,0.7v6.50a0.7,0.7 0 0 1-0.7,0.7h-2.80l-1.1,1.3l-1.1-1.3h-2.80a0.7,0.7 0 0 1-0.7-0.7v-6.50a0.7,0.7 0 0 1 0.7-0.7z" fill="#0e0e0e"/><use href="#agua" x="438.40" y="218.25" width="9.20" height="7.50"/></g>
<g><path d="M483.80,225.55h7.80a0.7,0.7 0 0 1 0.7,0.7v6.50a0.7,0.7 0 0 1-0.7,0.7h-2.80l-1.1,1.3l-1.1-1.3h-2.80a0.7,0.7 0 0 1-0.7-0.7v-6.50a0.7,0.7 0 0 1 0.7-0.7z" fill="#1c1c1c"/><use href="#banos-s" x="483.10" y="225.75" width="9.20" height="7.50"/></g>
<g><path d="M500.50,232.25h7.80a0.7,0.7 0 0 1 0.7,0.7v6.50a0.7,0.7 0 0 1-0.7,0.7h-2.80l-1.1,1.3l-1.1-1.3h-2.80a0.7,0.7 0 0 1-0.7-0.7v-6.50a0.7,0.7 0 0 1 0.7-0.7z" fill="#0e0e0e"/><use href="#musica" x="499.80" y="232.45" width="9.20" height="7.50"/></g>
<g><path d="M509.90,235.75h7.80a0.7,0.7 0 0 1 0.7,0.7v6.50a0.7,0.7 0 0 1-0.7,0.7h-2.80l-1.1,1.3l-1.1-1.3h-2.80a0.7,0.7 0 0 1-0.7-0.7v-6.50a0.7,0.7 0 0 1 0.7-0.7z" fill="#1c1c1c"/><use href="#bebida-s" x="509.20" y="235.95" width="9.20" height="7.50"/></g>
<g><path d="M465.70,250.45h7.80a0.7,0.7 0 0 1 0.7,0.7v6.50a0.7,0.7 0 0 1-0.7,0.7h-2.80l-1.1,1.3l-1.1-1.3h-2.80a0.7,0.7 0 0 1-0.7-0.7v-6.50a0.7,0.7 0 0 1 0.7-0.7z" fill="#1c1c1c"/><use href="#bebida-s" x="465.00" y="250.65" width="9.20" height="7.50"/></g>
<g><path d="M491.30,262.25h7.80a0.7,0.7 0 0 1 0.7,0.7v6.50a0.7,0.7 0 0 1-0.7,0.7h-2.80l-1.1,1.3l-1.1-1.3h-2.80a0.7,0.7 0 0 1-0.7-0.7v-6.50a0.7,0.7 0 0 1 0.7-0.7z" fill="#0e0e0e"/><use href="#agua" x="490.60" y="262.45" width="9.20" height="7.50"/></g>
<g><path d="M476.50,278.45h7.80a0.7,0.7 0 0 1 0.7,0.7v6.50a0.7,0.7 0 0 1-0.7,0.7h-2.80l-1.1,1.3l-1.1-1.3h-2.80a0.7,0.7 0 0 1-0.7-0.7v-6.50a0.7,0.7 0 0 1 0.7-0.7z" fill="#0e0e0e"/><use href="#agua" x="475.80" y="278.65" width="9.20" height="7.50"/></g>
<g><path d="M493.60,285.55h7.80a0.7,0.7 0 0 1 0.7,0.7v6.50a0.7,0.7 0 0 1-0.7,0.7h-2.80l-1.1,1.3l-1.1-1.3h-2.80a0.7,0.7 0 0 1-0.7-0.7v-6.50a0.7,0.7 0 0 1 0.7-0.7z" fill="#0e0e0e"/><use href="#duchas-s" x="492.90" y="285.75" width="9.20" height="7.50"/></g>
<g><path d="M493.60,303.35h7.80a0.7,0.7 0 0 1 0.7,0.7v6.50a0.7,0.7 0 0 1-0.7,0.7h-2.80l-1.1,1.3l-1.1-1.3h-2.80a0.7,0.7 0 0 1-0.7-0.7v-6.50a0.7,0.7 0 0 1 0.7-0.7z" fill="#1c1c1c"/><use href="#bebida-s" x="492.90" y="303.55" width="9.20" height="7.50"/></g>
<g><path d="M530.10,310.85h7.80a0.7,0.7 0 0 1 0.7,0.7v6.50a0.7,0.7 0 0 1-0.7,0.7h-2.80l-1.1,1.3l-1.1-1.3h-2.80a0.7,0.7 0 0 1-0.7-0.7v-6.50a0.7,0.7 0 0 1 0.7-0.7z" fill="#0e0e0e"/><use href="#auxilios" x="529.40" y="311.05" width="9.20" height="7.50"/></g>
<g><path d="M538.50,315.45h7.80a0.7,0.7 0 0 1 0.7,0.7v6.50a0.7,0.7 0 0 1-0.7,0.7h-2.80l-1.1,1.3l-1.1-1.3h-2.80a0.7,0.7 0 0 1-0.7-0.7v-6.50a0.7,0.7 0 0 1 0.7-0.7z" fill="#0e0e0e"/><use href="#agua" x="537.80" y="315.65" width="9.20" height="7.50"/></g>
<g><path d="M546.10,319.45h7.80a0.7,0.7 0 0 1 0.7,0.7v6.50a0.7,0.7 0 0 1-0.7,0.7h-2.80l-1.1,1.3l-1.1-1.3h-2.80a0.7,0.7 0 0 1-0.7-0.7v-6.50a0.7,0.7 0 0 1 0.7-0.7z" fill="#0e0e0e"/><use href="#musica" x="545.40" y="319.65" width="9.20" height="7.50"/></g>
<g><path d="M507.70,330.45h7.80a0.7,0.7 0 0 1 0.7,0.7v6.50a0.7,0.7 0 0 1-0.7,0.7h-2.80l-1.1,1.3l-1.1-1.3h-2.80a0.7,0.7 0 0 1-0.7-0.7v-6.50a0.7,0.7 0 0 1 0.7-0.7z" fill="#0e0e0e"/><use href="#agua" x="507.00" y="330.65" width="9.20" height="7.50"/></g>
<g><path d="M542.10,363.05h7.80a0.7,0.7 0 0 1 0.7,0.7v6.50a0.7,0.7 0 0 1-0.7,0.7h-2.80l-1.1,1.3l-1.1-1.3h-2.80a0.7,0.7 0 0 1-0.7-0.7v-6.50a0.7,0.7 0 0 1 0.7-0.7z" fill="#0e0e0e"/><use href="#control-s" x="541.40" y="363.25" width="9.20" height="7.50"/></g>
<rect x="173.8" y="188.2" width="27.7" height="18.5" rx="1.2" fill="#0e0e0e"/>
<rect x="169.5" y="206.2" width="36" height="11" rx="1.6" fill="#0e0e0e" stroke="#5d6612" stroke-width=".5"/>
<text x="175.6" y="193" textLength="23.8" lengthAdjust="spacingAndGlyphs" style="font-family:'Liberation Sans',sans-serif;font-weight:bold;font-size:4.7px;fill:#fff">SALIDA / META</text>
<text x="171.2" y="212" textLength="33.2" lengthAdjust="spacingAndGlyphs" style="font-family:'Liberation Sans',sans-serif;font-weight:bold;font-size:4.2px;fill:#c9e40f;stroke:#c9e40f;stroke-width:.15px">PLAZOLETA DE LOS</text>
<text x="172.5" y="216.1" textLength="30.4" lengthAdjust="spacingAndGlyphs" style="font-family:'Liberation Sans',sans-serif;font-weight:bold;font-size:4.2px;fill:#c9e40f;stroke:#c9e40f;stroke-width:.15px">PIES DESCALZOS</text>
<use href="#banos-s" x="176.40" y="193.05" width="6.8" height="5.7"/>
<use href="#auxilios" x="184.15" y="193.05" width="6.8" height="5.7"/>
<use href="#control-s" x="191.90" y="193.05" width="6.8" height="5.7"/>
<use href="#agua" x="176.40" y="199.65" width="6.8" height="5.7"/>
<use href="#musica" x="184.15" y="199.65" width="6.8" height="5.7"/>
<use href="#bebida-s" x="191.90" y="199.65" width="6.8" height="5.7"/>
<text x="61.3" y="123.3" textLength="17.4" lengthAdjust="spacingAndGlyphs" class="lb">Parque</text>
<text x="63.3" y="129.7" textLength="14.0" lengthAdjust="spacingAndGlyphs" class="lb">Norte</text>
<text x="100.7" y="116" textLength="30.0" lengthAdjust="spacingAndGlyphs" class="lb">Cementerio</text>
<text x="102" y="122.4" textLength="28.0" lengthAdjust="spacingAndGlyphs" class="lb">San Pedro</text>
<text x="67" y="160.6" textLength="31.0" lengthAdjust="spacingAndGlyphs" class="lb">Universidad</text>
<text x="65.6" y="166.6" textLength="33.4" lengthAdjust="spacingAndGlyphs" class="lb">de Antioquia</text>
<text x="106" y="179.2" textLength="31.0" lengthAdjust="spacingAndGlyphs" class="lb">Universidad</text>
<text x="110" y="185.6" textLength="23.0" lengthAdjust="spacingAndGlyphs" class="lb">Nacional</text>
<text x="132" y="193.6" textLength="19.0" lengthAdjust="spacingAndGlyphs" class="lb">Cra. 65</text>
<text x="86" y="243" textLength="27.3" lengthAdjust="spacingAndGlyphs" class="lb">IV Brigada</text>
<text x="131" y="239.6" textLength="18.6" lengthAdjust="spacingAndGlyphs" class="lb">Unidad</text>
<text x="127" y="246.6" textLength="25.4" lengthAdjust="spacingAndGlyphs" class="lb">Deportiva</text>
<text x="128" y="252.6" textLength="23.0" lengthAdjust="spacingAndGlyphs" class="lb">Atanasio</text>
<text x="129.6" y="259" textLength="20.4" lengthAdjust="spacingAndGlyphs" class="lb">Girardot</text>
<text x="167" y="238.2" textLength="22.0" lengthAdjust="spacingAndGlyphs" class="lb">Calle 44</text>
<text x="165.6" y="244.8" textLength="25.4" lengthAdjust="spacingAndGlyphs" class="lb">San Juan</text>
<text x="147" y="151.8" textLength="31.0" lengthAdjust="spacingAndGlyphs" class="lb">Av. Oriental</text>
<text x="209.3" y="149.3" textLength="32.4" lengthAdjust="spacingAndGlyphs" class="lb">C.C. Sandiego</text>
<text x="237.3" y="164" textLength="54.4" lengthAdjust="spacingAndGlyphs" class="lb">C.C. Premium Plaza</text>
<text x="274" y="185" textLength="11.0" lengthAdjust="spacingAndGlyphs" class="lb">C.C.</text>
<text x="266" y="191.7" textLength="27.3" lengthAdjust="spacingAndGlyphs" class="lb">Monterrey</text>
<text x="288.3" y="134.3" textLength="26.7" lengthAdjust="spacingAndGlyphs" class="lb">Parque de</text>
<text x="286.7" y="141" textLength="28.3" lengthAdjust="spacingAndGlyphs" class="lb">El Poblado</text>
<text x="265" y="219.3" textLength="30.0" lengthAdjust="spacingAndGlyphs" class="lb">Aeropuerto</text>
<text x="261.7" y="226" textLength="36.0" lengthAdjust="spacingAndGlyphs" class="lb">Olaya Herrera</text>
<text x="333" y="150.7" textLength="34.0" lengthAdjust="spacingAndGlyphs" class="lb">C.C. Santafé</text>
<text x="333" y="157" textLength="32.0" lengthAdjust="spacingAndGlyphs" class="lb">C.C. Oviedo</text>
<text x="363" y="164" textLength="43.0" lengthAdjust="spacingAndGlyphs" class="lb">Club Campestre</text>
<text x="368.8" y="170" textLength="31.6" lengthAdjust="spacingAndGlyphs" class="lb">de Medellín</text>
<text x="326" y="192.7" textLength="31.3" lengthAdjust="spacingAndGlyphs" class="lb">Universidad</text>
<text x="333" y="199" textLength="17.0" lengthAdjust="spacingAndGlyphs" class="lb">EAFIT</text>
<text x="382.7" y="210" textLength="24.6" lengthAdjust="spacingAndGlyphs" class="lb">Carrefour</text>
<text x="381.7" y="216.3" textLength="26.6" lengthAdjust="spacingAndGlyphs" class="lb">Las Vegas</text>
<text x="457" y="239.3" textLength="18.0" lengthAdjust="spacingAndGlyphs" class="lb">Sofasa</text>
<text x="396" y="258.3" textLength="47.0" lengthAdjust="spacingAndGlyphs" class="lb">Polideportivo Sur</text>
<text x="503" y="222.7" textLength="27.0" lengthAdjust="spacingAndGlyphs" class="lb">Parque de</text>
<text x="504" y="229.3" textLength="24.0" lengthAdjust="spacingAndGlyphs" class="lb">Envigado</text>
<text x="506.7" y="257" textLength="26.3" lengthAdjust="spacingAndGlyphs" class="lb">Clínica de</text>
<text x="507.3" y="264" textLength="24.4" lengthAdjust="spacingAndGlyphs" class="lb">la Policía</text>
<text x="451.7" y="292.7" textLength="35.6" lengthAdjust="spacingAndGlyphs" class="lb">C.C. Mayorca</text>
<text x="191.9" y="131.4" textLength="68.3" lengthAdjust="spacingAndGlyphs" class="ct" style="font-size:14px">MEDELLÍN</text>
<text x="426.9" y="185.8" textLength="53.1" lengthAdjust="spacingAndGlyphs" class="ct" style="font-size:11.3px">ENVIGADO</text>
<text x="417.1" y="276.9" textLength="34.6" lengthAdjust="spacingAndGlyphs" class="ct" style="font-size:10.4px">ITAGÜÍ</text>
<text x="510" y="291.7" textLength="52.0" lengthAdjust="spacingAndGlyphs" class="ct" style="font-size:11.5px">SABANETA</text>
<path d="M38.3,236.3 L63.7,221.7 L59.2,236.3Z" fill="#8c8c8c"/><path d="M38.3,236.3 L63.7,250.3 L59.2,236.3Z" fill="#111"/>
<text x="64.7" y="243" textLength="8.3" lengthAdjust="spacingAndGlyphs" style="font-family:'Liberation Sans',sans-serif;font-weight:bold;font-size:19px;fill:#8c8c8c;stroke:#8c8c8c;stroke-width:.7px">N</text>
<g><path d="M52.9,322.8h20.4a1.4,1.4 0 0 1 1.4,1.4v16.599999999999998a1.4,1.4 0 0 1-1.4,1.4h-6.80l-3.4,2.9l-3.4-2.9h-6.80a1.4,1.4 0 0 1-1.4-1.4v-16.599999999999998a1.4,1.4 0 0 1 1.4-1.4z" fill="#0e0e0e"/><use href="#agua" x="51.5" y="322.8" width="23.2" height="19.4"/></g>
<text x="80" y="337.40000000000003" textLength="17.5" lengthAdjust="spacingAndGlyphs" class="lg">AGUA</text>
<g><path d="M52.9,351.1h20.4a1.4,1.4 0 0 1 1.4,1.4v16.599999999999998a1.4,1.4 0 0 1-1.4,1.4h-6.80l-3.4,2.9l-3.4-2.9h-6.80a1.4,1.4 0 0 1-1.4-1.4v-16.599999999999998a1.4,1.4 0 0 1 1.4-1.4z" fill="#2b2b2b"/><use href="#bebida" x="51.5" y="351.1" width="23.2" height="19.4"/></g>
<text x="80" y="360.40000000000003" textLength="21.0" lengthAdjust="spacingAndGlyphs" class="lg">BEBIDA</text>
<text x="80" y="367.40000000000003" textLength="33.0" lengthAdjust="spacingAndGlyphs" class="lg">ISOTÓNICA</text>
<g><path d="M122.2,322.8h20.4a1.4,1.4 0 0 1 1.4,1.4v16.599999999999998a1.4,1.4 0 0 1-1.4,1.4h-6.80l-3.4,2.9l-3.4-2.9h-6.80a1.4,1.4 0 0 1-1.4-1.4v-16.599999999999998a1.4,1.4 0 0 1 1.4-1.4z" fill="#0e0e0e"/><use href="#banos" x="120.8" y="322.8" width="23.2" height="19.4"/></g>
<text x="149" y="337.40000000000003" textLength="21.5" lengthAdjust="spacingAndGlyphs" class="lg">BAÑOS</text>
<g><path d="M122.2,351.1h20.4a1.4,1.4 0 0 1 1.4,1.4v16.599999999999998a1.4,1.4 0 0 1-1.4,1.4h-6.80l-3.4,2.9l-3.4-2.9h-6.80a1.4,1.4 0 0 1-1.4-1.4v-16.599999999999998a1.4,1.4 0 0 1 1.4-1.4z" fill="#0e0e0e"/><use href="#control" x="120.8" y="351.1" width="23.2" height="19.4"/></g>
<text x="149" y="360.40000000000003" textLength="29.0" lengthAdjust="spacingAndGlyphs" class="lg">CONTROL</text>
<text x="149" y="367.40000000000003" textLength="37.7" lengthAdjust="spacingAndGlyphs" class="lg">DE TIEMPOS</text>
<g><path d="M194.20000000000002,322.8h20.4a1.4,1.4 0 0 1 1.4,1.4v16.599999999999998a1.4,1.4 0 0 1-1.4,1.4h-6.80l-3.4,2.9l-3.4-2.9h-6.80a1.4,1.4 0 0 1-1.4-1.4v-16.599999999999998a1.4,1.4 0 0 1 1.4-1.4z" fill="#0e0e0e"/><use href="#ambulancia" x="192.8" y="322.8" width="23.2" height="19.4"/></g>
<text x="221" y="337.40000000000003" textLength="41.5" lengthAdjust="spacingAndGlyphs" class="lg">AMBULANCIA</text>
<g><path d="M194.20000000000002,351.1h20.4a1.4,1.4 0 0 1 1.4,1.4v16.599999999999998a1.4,1.4 0 0 1-1.4,1.4h-6.80l-3.4,2.9l-3.4-2.9h-6.80a1.4,1.4 0 0 1-1.4-1.4v-16.599999999999998a1.4,1.4 0 0 1 1.4-1.4z" fill="#0e0e0e"/><use href="#auxilios" x="192.8" y="351.1" width="23.2" height="19.4"/></g>
<text x="221" y="360.40000000000003" textLength="32.7" lengthAdjust="spacingAndGlyphs" class="lg">PRIMEROS</text>
<text x="221" y="367.40000000000003" textLength="28.5" lengthAdjust="spacingAndGlyphs" class="lg">AUXILIOS</text>
<g><path d="M274.2,322.8h20.4a1.4,1.4 0 0 1 1.4,1.4v16.599999999999998a1.4,1.4 0 0 1-1.4,1.4h-6.80l-3.4,2.9l-3.4-2.9h-6.80a1.4,1.4 0 0 1-1.4-1.4v-16.599999999999998a1.4,1.4 0 0 1 1.4-1.4z" fill="#0e0e0e"/><use href="#musica" x="272.8" y="322.8" width="23.2" height="19.4"/></g>
<text x="301" y="337.40000000000003" textLength="24.7" lengthAdjust="spacingAndGlyphs" class="lg">MÚSICA</text>
<g><path d="M274.2,351.1h20.4a1.4,1.4 0 0 1 1.4,1.4v16.599999999999998a1.4,1.4 0 0 1-1.4,1.4h-6.80l-3.4,2.9l-3.4-2.9h-6.80a1.4,1.4 0 0 1-1.4-1.4v-16.599999999999998a1.4,1.4 0 0 1 1.4-1.4z" fill="#0e0e0e"/><use href="#duchas" x="272.8" y="351.1" width="23.2" height="19.4"/></g>
<text x="301" y="365.70000000000005" textLength="25.0" lengthAdjust="spacingAndGlyphs" class="lg">DUCHAS</text>
<rect x="347.3" y="321" width="41.2" height="8.3" rx="4.15" fill="#08197c"/>
<circle cx="369" cy="345.2" r="6.6" fill="#ff1a8c"/>
<clipPath id="lc"><rect x="347.2" y="359.3" width="41.6" height="8.5" rx="4.25"/></clipPath>
<g clip-path="url(#lc)"><rect x="347" y="359" width="42" height="9" fill="#0fe4ff"/><path d="M341.80,368L347.00,359M344.00,368L349.20,359M346.20,368L351.40,359M348.40,368L353.60,359M350.60,368L355.80,359M352.80,368L358.00,359M355.00,368L360.20,359M357.20,368L362.40,359M359.40,368L364.60,359M361.60,368L366.80,359M363.80,368L369.00,359M366.00,368L371.20,359M368.20,368L373.40,359M370.40,368L375.60,359M372.60,368L377.80,359M374.80,368L380.00,359M377.00,368L382.20,359M379.20,368L384.40,359M381.40,368L386.60,359M383.60,368L388.80,359M385.80,368L391.00,359M388.00,368L393.20,359" stroke="#0a96e6" stroke-width=".85" fill="none"/></g>
<text x="396.9" y="329.5" textLength="85.2" lengthAdjust="spacingAndGlyphs" class="lr">RECORRIDO 42K</text>
<text x="396.9" y="348.4" textLength="73" lengthAdjust="spacingAndGlyphs" class="lr">KILOMETRAJE</text>
<text x="396.9" y="367.8" textLength="73.4" lengthAdjust="spacingAndGlyphs" class="lr">RÍO MEDELLÍN</text>
</svg></body></html>
